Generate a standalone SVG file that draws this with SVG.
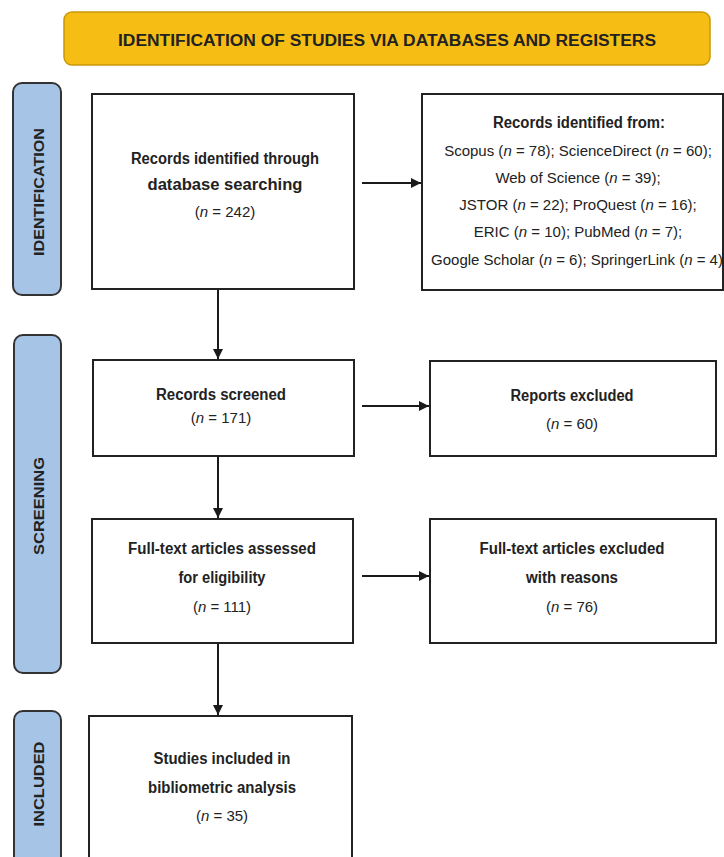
<svg xmlns="http://www.w3.org/2000/svg" width="724" height="857" viewBox="0 0 724 857">
<defs>
<marker id="ah" viewBox="0 0 10 10" refX="10" refY="5" markerWidth="10" markerHeight="10" markerUnits="userSpaceOnUse" orient="auto">
<path d="M0,0 L10,5 L0,10 z" fill="#1a1a1a"/>
</marker>
</defs>
<style>
.box{fill:#fff;stroke:#222;stroke-width:2}
.side{fill:#a6c4e6;stroke:#333;stroke-width:2}
.hdr{fill:#f6bd14;stroke:#c9980a;stroke-width:1.5}
.t{font-family:"Liberation Sans",Arial,sans-serif;font-size:16px;fill:#222;text-anchor:middle}
.r{font-size:15px}
.b{font-weight:bold}
.s{font-family:"Liberation Sans",Arial,sans-serif;font-size:15px;font-weight:bold;fill:#222;text-anchor:middle;dominant-baseline:central}
.i{font-style:italic}
.c{stroke:#1a1a1a;stroke-width:2;fill:none}
</style>
<rect width="724" height="857" fill="#fff"/>
<g id="header">
<rect class="hdr" x="64" y="12" width="646" height="53" rx="8"/>
<text class="t b" x="387" y="46" font-size="17" textLength="538" lengthAdjust="spacingAndGlyphs">IDENTIFICATION OF STUDIES VIA DATABASES AND REGISTERS</text>
</g>
<g id="side-identification">
<rect class="side" x="13" y="83" width="48" height="212" rx="9"/>
<text class="s" transform="translate(38,192) rotate(-90)" textLength="128" lengthAdjust="spacingAndGlyphs">IDENTIFICATION</text>
</g>
<g id="side-screening">
<rect class="side" x="14" y="335" width="47" height="338" rx="9"/>
<text class="s" transform="translate(38,506) rotate(-90)" textLength="98" lengthAdjust="spacingAndGlyphs">SCREENING</text>
</g>
<g id="side-included">
<rect class="side" x="14" y="711" width="47" height="170" rx="9"/>
<text class="s" transform="translate(38,784) rotate(-90)" textLength="85" lengthAdjust="spacingAndGlyphs">INCLUDED</text>
</g>
<g id="n-identified">
<rect class="box" x="92" y="94" width="262" height="195"/>
<text class="t b" x="225" y="164" textLength="188" lengthAdjust="spacingAndGlyphs">Records identified through</text>
<text class="t b" x="225" y="190" textLength="155" lengthAdjust="spacingAndGlyphs">database searching</text>
<text class="t r" x="225" y="217">(<tspan class="i">n</tspan> = 242)</text>
</g>
<g id="n-sources">
<rect class="box" x="422" y="94" width="301" height="196"/>
<text class="t b" x="579" y="128" textLength="172" lengthAdjust="spacingAndGlyphs">Records identified from:</text>
<text class="t r" x="578" y="156">Scopus (<tspan class="i">n</tspan> = 78); ScienceDirect (<tspan class="i">n</tspan> = 60);</text>
<text class="t r" x="578" y="183">Web of Science (<tspan class="i">n</tspan> = 39);</text>
<text class="t r" x="578" y="210">JSTOR (<tspan class="i">n</tspan> = 22); ProQuest (<tspan class="i">n</tspan> = 16);</text>
<text class="t r" x="578" y="237">ERIC (<tspan class="i">n</tspan> = 10); PubMed (<tspan class="i">n</tspan> = 7);</text>
<text class="t r" x="577" y="265">Google Scholar (<tspan class="i">n</tspan> = 6); SpringerLink (<tspan class="i">n</tspan> = 4)</text>
</g>
<g id="n-screened">
<rect class="box" x="93" y="360" width="261" height="96"/>
<text class="t b" x="221" y="400" textLength="130" lengthAdjust="spacingAndGlyphs">Records screened</text>
<text class="t r" x="221" y="423">(<tspan class="i">n</tspan> = 171)</text>
</g>
<g id="n-reports-excluded">
<rect class="box" x="430" y="361" width="286" height="95"/>
<text class="t b" x="572" y="401" textLength="123" lengthAdjust="spacingAndGlyphs">Reports excluded</text>
<text class="t r" x="572" y="429">(<tspan class="i">n</tspan> = 60)</text>
</g>
<g id="n-fulltext">
<rect class="box" x="92" y="519" width="261" height="124"/>
<text class="t b" x="222" y="554" textLength="188" lengthAdjust="spacingAndGlyphs">Full-text articles assessed</text>
<text class="t b" x="222" y="583" textLength="87" lengthAdjust="spacingAndGlyphs">for eligibility</text>
<text class="t r" x="222" y="612">(<tspan class="i">n</tspan> = 111)</text>
</g>
<g id="n-fulltext-excluded">
<rect class="box" x="430" y="519" width="286" height="124"/>
<text class="t b" x="572" y="554" textLength="185" lengthAdjust="spacingAndGlyphs">Full-text articles excluded</text>
<text class="t b" x="572" y="583" textLength="92" lengthAdjust="spacingAndGlyphs">with reasons</text>
<text class="t r" x="572" y="612">(<tspan class="i">n</tspan> = 76)</text>
</g>
<g id="n-included">
<rect class="box" x="89" y="716" width="263" height="170"/>
<text class="t b" x="222" y="764" textLength="137" lengthAdjust="spacingAndGlyphs">Studies included in</text>
<text class="t b" x="222" y="793" textLength="148" lengthAdjust="spacingAndGlyphs">bibliometric analysis</text>
<text class="t r" x="222" y="821">(<tspan class="i">n</tspan> = 35)</text>
</g>
<g id="connectors">
<line class="c" x1="362" y1="183" x2="421" y2="183" marker-end="url(#ah)"/>
<line class="c" x1="218" y1="290" x2="218" y2="359" marker-end="url(#ah)"/>
<line class="c" x1="362" y1="406" x2="429" y2="406" marker-end="url(#ah)"/>
<line class="c" x1="218" y1="457" x2="218" y2="518" marker-end="url(#ah)"/>
<line class="c" x1="362" y1="576" x2="429" y2="576" marker-end="url(#ah)"/>
<line class="c" x1="218" y1="644" x2="218" y2="715" marker-end="url(#ah)"/>
</g>
</svg>
